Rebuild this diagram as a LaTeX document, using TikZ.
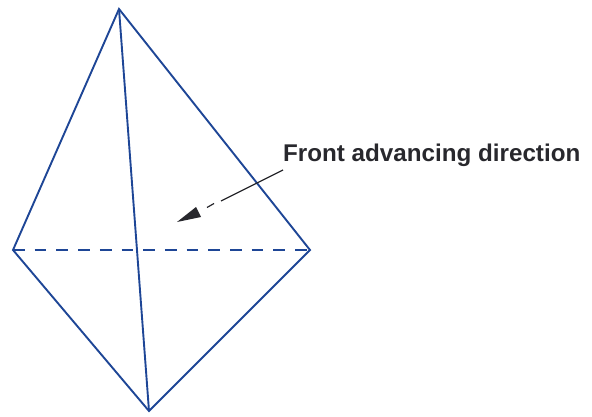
\documentclass[tikz,border=0pt]{standalone}
\usepackage{fontspec}
\setmainfont{Liberation Sans}
\definecolor{edgeblue}{RGB}{30,70,150}
\definecolor{ink}{RGB}{40,40,45}
\tikzset{edge/.style={draw=edgeblue,line width=1.9pt},
hidden/.style={draw=edgeblue,line width=1.9pt,dash pattern=on 11.7pt off 10pt},
lbl/.style={font=\bfseries\fontsize{24.2}{28}\selectfont,text=ink,inner sep=0pt,anchor=west},
leader/.style={draw=ink,line width=1.2pt}}
\begin{document}
\begin{tikzpicture}[x=1pt,y=-1pt]
\useasboundingbox (0,0) rectangle (592,417);
\coordinate (T) at (119,9);
\coordinate (L) at (13,250);
\coordinate (R) at (310,250);
\coordinate (B) at (149,411);
\draw[edge,line join=miter] (T)--(L)--(B)--(R)--cycle;
\draw[edge] (T)--(B);
\draw[hidden] (L)--(R);
\node[lbl] (txt) at (283,155) {Front advancing direction};
\coordinate (a1) at (283,170);
\coordinate (a2) at (221,201);
\coordinate (d1) at (214,203.5);
\coordinate (d2) at (207,207.5);
\coordinate (tip) at (177,222);
\draw[leader] (a1)--(a2);
\draw[leader] (d1)--(d2);
\fill[ink] (tip)--(196,207)--(201,217)--cycle;
\end{tikzpicture}
\end{document}
